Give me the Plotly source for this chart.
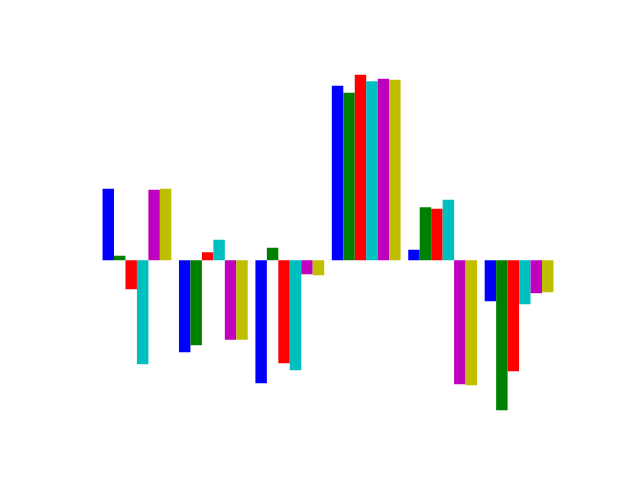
import plotly.graph_objects as go

groups = ["G1", "G2", "G3", "G4", "G5", "G6"]
series_names = ["s1", "s2", "s3", "s4", "s5", "s6"]
s1 = [71.5, -92, -123, 174.5, 10.5, -41]
s2 = [4.5, -85, 12.5, 167.5, 53, -150]
s3 = [-29, 8, -103, 185.5, 51.5, -111]
s4 = [-104, 20.5, -110, 179, 60.5, -44]
s5 = [70.5, -79.5, -14, 181.5, -124, -33]
s6 = [71.5, -79.5, -15, 180.5, -125, -32]
colors = ["#0000FF", "#008000", "#FF0000", "#00BFBF", "#BF00BF", "#BFBF00"]

fig = go.Figure()
for name, vals, col in zip(series_names, [s1, s2, s3, s4, s5, s6], colors):
    fig.add_trace(go.Bar(x=list(range(len(groups))), y=vals, name=name,
                         marker=dict(color=col, line=dict(width=0))))

vmin = min(min(s) for s in [s1, s2, s3, s4, s5, s6])
vmax = max(max(s) for s in [s1, s2, s3, s4, s5, s6])
pad = (vmax - vmin) * 0.05

fig.update_layout(
    width=640, height=480,
    margin=dict(l=80, r=64, t=57.6, b=52.8),
    barmode="group", bargap=0.1, bargroupgap=0,
    showlegend=False,
    plot_bgcolor="white", paper_bgcolor="white",
    xaxis=dict(visible=False, range=[-0.745, 5.745]),
    yaxis=dict(visible=False, range=[vmin - pad, vmax + pad]),
)
fig.write_html("out.html")
